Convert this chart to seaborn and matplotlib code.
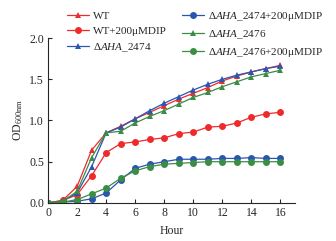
import matplotlib
matplotlib.use("Agg")
import matplotlib.pyplot as plt
import seaborn as sns
import pandas as pd

hours = list(range(17))

wt = [0, 0.03, 0.20, 0.64, 0.85, 0.93, 1.02, 1.10, 1.18, 1.26, 1.33, 1.40, 1.48, 1.54, 1.59, 1.63, 1.67]
wt_mdip = [0, 0.03, 0.10, 0.33, 0.61, 0.72, 0.74, 0.77, 0.79, 0.84, 0.86, 0.92, 0.93, 0.97, 1.04, 1.08, 1.10]
d2474 = [0, 0.02, 0.12, 0.44, 0.85, 0.92, 1.02, 1.12, 1.21, 1.29, 1.37, 1.44, 1.50, 1.55, 1.59, 1.63, 1.66]
d2474_mdip = [0, 0.01, 0.02, 0.05, 0.12, 0.28, 0.42, 0.47, 0.50, 0.53, 0.53, 0.53, 0.54, 0.54, 0.55, 0.54, 0.54]
d2476 = [0, 0.02, 0.14, 0.55, 0.85, 0.87, 0.97, 1.05, 1.12, 1.20, 1.28, 1.34, 1.41, 1.47, 1.53, 1.57, 1.61]
d2476_mdip = [0, 0.01, 0.04, 0.11, 0.18, 0.30, 0.39, 0.44, 0.47, 0.48, 0.49, 0.50, 0.50, 0.50, 0.50, 0.50, 0.50]

labels = ["WT", "WT+200μMDIP",
          r"$\mathit{ΔAHA\_2474}$", r"$\mathit{ΔAHA\_2474}$+200μMDIP",
          r"$\mathit{ΔAHA\_2476}$", r"$\mathit{ΔAHA\_2476}$+200μMDIP"]
series = [wt, wt_mdip, d2474, d2474_mdip, d2476, d2476_mdip]

red, blue, green = "#ee2a2a", "#2a55b0", "#3b8c45"
colors = [red, red, blue, blue, green, green]
markers = ["^", "o", "^", "o", "^", "o"]

df = pd.DataFrame({
    "Hour": hours * len(series),
    "OD": sum(series, []),
    "strain": [lab for lab in labels for _ in hours],
})

sns.set_style("ticks")
plt.rcParams["font.family"] = ["Liberation Serif", "DejaVu Serif"]
plt.rcParams["mathtext.fontset"] = "custom"
plt.rcParams["mathtext.rm"] = "Liberation Serif"
plt.rcParams["mathtext.it"] = "Liberation Serif:italic"

fig = plt.figure(figsize=(3.36, 2.41), dpi=100)
ax = fig.add_axes([0.143, 0.158, 0.735, 0.684])

sns.lineplot(data=df, x="Hour", y="OD", hue="strain", style="strain",
             hue_order=labels, style_order=labels,
             palette=dict(zip(labels, colors)),
             markers=dict(zip(labels, markers)),
             dashes=False, markersize=5, markeredgewidth=0,
             linewidth=0.9, ax=ax, legend=True)

ax.set_xlim(0, 17)
ax.set_ylim(0, 2.0)
ax.set_xticks(range(0, 17, 2))
ax.set_yticks([0, 0.5, 1.0, 1.5, 2.0])
ax.set_yticklabels(["0.0", "0.5", "1.0", "1.5", "2.0"])
ax.tick_params(direction="in", length=3, width=0.8, labelsize=8.5, pad=3)
for s in ["top", "right"]:
    ax.spines[s].set_visible(False)
for s in ["left", "bottom"]:
    ax.spines[s].set_linewidth(0.8)
ax.set_xlabel("Hour", fontsize=8.5, labelpad=4)
ax.set_ylabel(r"OD$_{600\mathrm{nm}}$", fontsize=8.5, labelpad=3)

h, l = ax.get_legend_handles_labels()
ax.get_legend().remove()
fig.legend(h, l, ncol=2, loc="upper left", bbox_to_anchor=(0.2, 0.96),
           frameon=False, fontsize=8, handlelength=2.0, handletextpad=0.3,
           columnspacing=1.4, labelspacing=0.5, borderaxespad=0, borderpad=0)

fig.savefig("out.png", dpi=100)
